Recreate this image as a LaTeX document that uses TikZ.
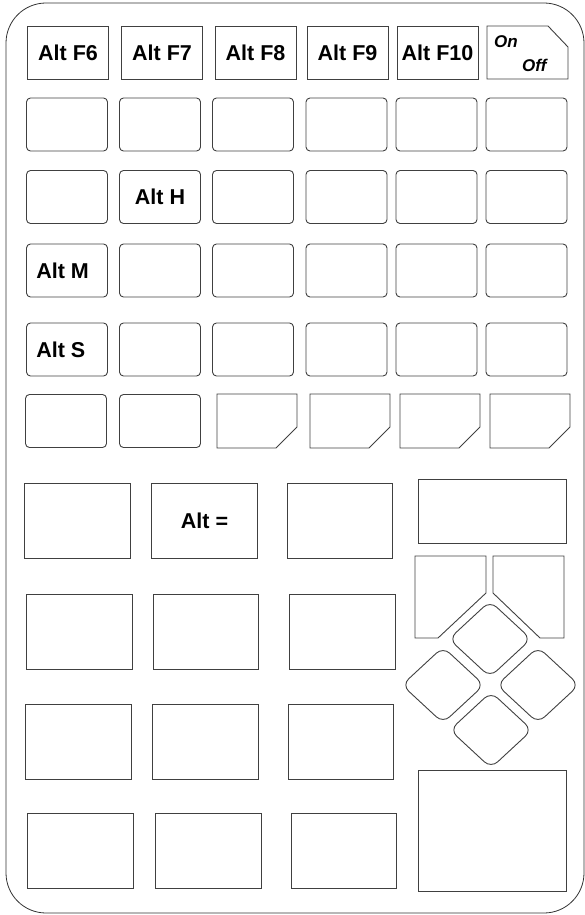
\documentclass[tikz,border=0pt]{standalone}
\usepackage{fontspec}
\setsansfont{Liberation Sans}
\tikzset{
  keyline/.style={draw=black!75,line width=0.9pt},
  keytext/.style={font=\sffamily\bfseries\fontsize{21.5}{24}\selectfont,inner sep=0pt},
  fkey/.style={keyline,keytext,minimum width=81pt,minimum height=53pt},
  softkey/.style={fkey,rounded corners=4pt},
  bigkey/.style={keyline,keytext,minimum width=105.5pt,minimum height=75pt},
  padkey/.style={keyline,rounded corners=9pt},
}
\begin{document}
\begin{tikzpicture}[x=1pt,y=-1pt]
\useasboundingbox (0,0) rectangle (584,915);
% case
\draw[draw=black!80,line width=0.8pt,rounded corners=40pt] (6,3) rectangle (584,913);
% function row
\node[fkey] (f6) at (68,52.5) {Alt F6};
\node[fkey] (f7) at (162,52.5) {Alt F7};
\node[fkey] (f8) at (255.5,52.5) {Alt F8};
\node[fkey] (f9) at (347.5,52.5) {Alt F9};
\node[fkey] (f10) at (437.5,52.5) {Alt F10};
\draw[keyline] (487,26)--(548,26)--(568,47)--(568,79)--(487,79)--cycle;
\node[keytext,font=\sffamily\bfseries\itshape\fontsize{17}{20}\selectfont,anchor=base west] (on) at (494,48) {On};
\node[keytext,font=\sffamily\bfseries\itshape\fontsize{17}{20}\selectfont,anchor=base west] (off) at (522,71.5) {Off};
% soft keys
\foreach \r/\y in {2/124.5,3/197,4/270.5,5/349.5}
  \foreach \c/\x in {1/67,2/160,3/253,4/346.5,5/436.5,6/526.5}
    \node[softkey] (k\r\c) at (\x,\y) {};
\node[keytext] (althk) at (k32) {Alt H};
\node[keytext,anchor=west] (altmk) at ([xshift=10pt]k41.west) {Alt M};
\node[keytext,anchor=west] (altsk) at ([xshift=10pt]k51.west) {Alt S};
\node[softkey] (k61) at (66,421) {};
\node[softkey] (k62) at (160,421) {};
\foreach \x in {257,350,440,530}
  \draw[keyline] (\x-40,394)--(\x+40,394)--(\x+40,427)--(\x+19,448)--(\x-40,448)--cycle;
% number block
\node[bigkey] (a1) at (77.5,521) {};
\node[bigkey] (a2) at (204.5,521) {Alt =};
\node[bigkey] (a3) at (340,521) {};
\node[bigkey] (b1) at (79.5,631.5) {};
\node[bigkey] (b2) at (206,631.5) {};
\node[bigkey] (b3) at (342.5,631.5) {};
\node[bigkey] (c1) at (78.5,741.5) {};
\node[bigkey] (c2) at (205.5,741.5) {};
\node[bigkey] (c3) at (341,741.5) {};
\node[bigkey] (d1) at (80.5,850.5) {};
\node[bigkey] (d2) at (208.5,850.5) {};
\node[bigkey] (d3) at (344,850.5) {};
% cursor block
\node[keyline,minimum width=148pt,minimum height=64pt] (wide) at (492,511) {};
\node[keyline,minimum width=148pt,minimum height=121pt] (tall) at (492,830.5) {};
\draw[keyline] (415,556)--(486,556)--(486,593)--(438,638)--(415,638)--cycle;
\draw[keyline] (493,556)--(564,556)--(564,638)--(540,638)--(493,593)--cycle;
\foreach \cx/\cy in {490/639,443/685,538/685,491/730}
  \draw[padkey] (\cx,\cy-38)--(\cx+41,\cy)--(\cx,\cy+38)--(\cx-41,\cy)--cycle;
\end{tikzpicture}
\end{document}
